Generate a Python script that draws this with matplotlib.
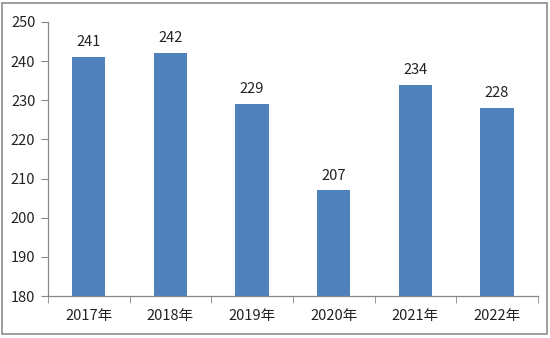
import matplotlib
matplotlib.use("Agg")
import matplotlib.pyplot as plt
from matplotlib.patches import Rectangle

plt.rcParams['font.family'] = ['Noto Sans CJK SC', 'DejaVu Sans']

years = ['2017年', '2018年', '2019年', '2020年', '2021年', '2022年']
values = [241, 242, 229, 207, 234, 228]
yticks = [180, 190, 200, 210, 220, 230, 240, 250]

fig = plt.figure(figsize=(5.5, 3.38), dpi=100)
ax = fig.add_axes([0.087, 0.124, 0.891, 0.811])

x = list(range(len(years)))
bars = ax.bar(x, values, width=0.41, color='#4f81bd', zorder=2)
for xi, v in zip(x, values):
    ax.text(xi, v + 2.0, str(v), ha='center', va='bottom', fontsize=10.5, color='#222222')

ax.set_xlim(-0.5, len(years) - 0.5)
ax.set_ylim(180, 250)
ax.set_yticks(yticks)
ax.set_yticklabels([str(t) for t in yticks], fontsize=10.5, color='#222222')

ax.set_xticks(x)
ax.set_xticklabels(years, fontsize=10.5, color='#222222')
ax.tick_params(axis='x', which='major', length=0, pad=9)
ax.set_xticks([i - 0.5 for i in range(len(years) + 1)], minor=True)
ax.tick_params(axis='x', which='minor', length=5, color='#888888', direction='out')
ax.tick_params(axis='y', length=5, color='#888888', direction='out', pad=4)

for side in ['top', 'right']:
    ax.spines[side].set_visible(False)
for side in ['left', 'bottom']:
    ax.spines[side].set_color('#888888')
    ax.spines[side].set_linewidth(0.9)

# outer frame of the chart
fig.patches.append(Rectangle((0.004, 0.012), 0.99, 0.98, transform=fig.transFigure,
                             fill=False, edgecolor='#8c8c8c', linewidth=1.2))

fig.savefig('out.png', dpi=100)
